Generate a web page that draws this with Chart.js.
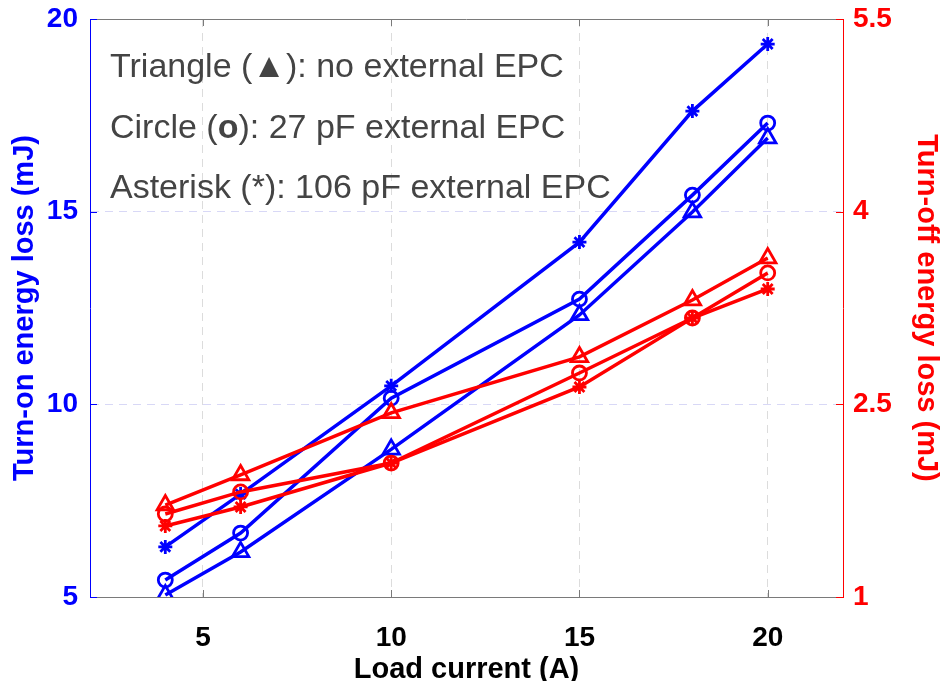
<!DOCTYPE html>
<html>
<head>
<meta charset="utf-8">
<script src="https://cdn.jsdelivr.net/npm/chart.js@4.4.1/dist/chart.umd.min.js"></script>
<style>
  body { margin: 0; background: #fff; }
  #wrap { width: 940px; height: 681px; }
</style>
</head>
<body>
<div id="wrap"><canvas id="lossChart" width="940" height="681"></canvas></div>
<script>
// Load current (A)
const loadCurrent = [4, 6, 10, 15, 18, 20];

// Turn-on energy loss (mJ), left axis
const onTriangle = [5.05, 6.17, 8.83, 12.32, 14.99, 16.91];
const onCircle = [5.44, 6.66, 10.16, 12.73, 15.43, 17.30];
const onAsterisk = [6.30, 7.67, 10.48, 14.21, 17.61, 19.35];

// Turn-off energy loss (mJ), right axis
const offTriangle = [1.716, 1.95, 2.433, 2.869, 3.312, 3.639];
const offCircle = [1.646, 1.818, 2.043, 2.744, 3.172, 3.523];
const offAsterisk = [1.553, 1.701, 2.043, 2.635, 3.172, 3.398];

// Tick labels
const xTicks = [5, 10, 15, 20];
const leftTicks = [5, 10, 15, 20];
const rightTicks = [1, 2.5, 4, 5.5];

const BLUE = "#0000ff";
const RED = "#ff0000";
const FONT = "'Liberation Sans', Arial, 'DejaVu Sans', sans-serif";

function pts(ys) {
  return loadCurrent.map((x, i) => ({ x: x, y: ys[i] }));
}

function series(ys, color, axis, style, radius) {
  return {
    data: pts(ys),
    yAxisID: axis,
    borderColor: color,
    backgroundColor: "rgba(0,0,0,0)",
    borderWidth: 3.5,
    pointStyle: style,
    pointRadius: radius,
    pointBorderWidth: 2.8,
    pointBorderColor: color,
    pointBackgroundColor: "rgba(0,0,0,0)",
    tension: 0,
    fill: false,
  };
}

function setTicks(values) {
  return (scale) => {
    scale.ticks = values.map((v) => ({ value: v }));
  };
}

// fixed axis width, no extra room for the end labels
function fitWidth(w) {
  return (s) => {
    s.width = w;
    s.paddingTop = 0;
    s.paddingBottom = 0;
  };
}

// Inner tick marks, top box line and the text notes
const extras = {
  id: "extras",
  afterDatasetsDraw(chart) {
    const { ctx, chartArea: a, scales } = chart;
    ctx.save();
    ctx.lineWidth = 1;

    // top frame line
    ctx.strokeStyle = "#7a7a7a";
    ctx.beginPath();
    ctx.moveTo(a.left, a.top + 0.5);
    ctx.lineTo(a.right, a.top + 0.5);
    ctx.stroke();

    // x ticks (bottom + top, pointing in)
    xTicks.forEach((v) => {
      const px = Math.round(scales.x.getPixelForValue(v)) + 0.5;
      ctx.beginPath();
      ctx.moveTo(px, a.bottom);
      ctx.lineTo(px, a.bottom - 7);
      ctx.moveTo(px, a.top);
      ctx.lineTo(px, a.top + 7);
      ctx.stroke();
    });

    // left ticks
    ctx.strokeStyle = BLUE;
    leftTicks.forEach((v) => {
      const py = Math.round(scales.yOn.getPixelForValue(v)) + 0.5;
      ctx.beginPath();
      ctx.moveTo(a.left, py);
      ctx.lineTo(a.left + 7, py);
      ctx.stroke();
    });

    // right ticks
    ctx.strokeStyle = RED;
    rightTicks.forEach((v) => {
      const py = Math.round(scales.yOff.getPixelForValue(v)) + 0.5;
      ctx.beginPath();
      ctx.moveTo(a.right, py);
      ctx.lineTo(a.right - 7, py);
      ctx.stroke();
    });

    // notes
    ctx.fillStyle = "#444444";
    ctx.textBaseline = "middle";
    ctx.textAlign = "left";
    const notes = [
      [["Triangle (", ""], ["\u25B2", ""], ["): no external EPC", ""]],
      [["Circle (", ""], ["o", "bold "], ["): 27 pF external EPC", ""]],
      [["Asterisk (*): 106 pF external EPC", ""]],
    ];
    const rows = [68, 129, 189];
    notes.forEach((parts, i) => {
      let x = 110;
      parts.forEach(([txt, weight]) => {
        ctx.font = weight + "34px " + FONT;
        ctx.fillText(txt, x, rows[i]);
        x += ctx.measureText(txt).width;
      });
    });
    ctx.restore();
  },
};

const ctx = document.getElementById("lossChart").getContext("2d");
new Chart(ctx, {
  type: "line",
  data: {
    datasets: [
      series(offTriangle, RED, "yOff", "triangle", 9.5),
      series(offCircle, RED, "yOff", "circle", 7),
      series(offAsterisk, RED, "yOff", "star", 7),
      series(onTriangle, BLUE, "yOn", "triangle", 9.5),
      series(onCircle, BLUE, "yOn", "circle", 7),
      series(onAsterisk, BLUE, "yOn", "star", 7),
    ],
  },
  options: {
    responsive: false,
    animation: false,
    layout: { padding: { top: 19, left: 0, right: 0, bottom: 0 } },
    plugins: {
      legend: { display: false },
      tooltip: { enabled: false },
    },
    scales: {
      x: {
        type: "linear",
        min: 2,
        max: 22,
        afterBuildTicks: setTicks(xTicks),
        afterFit: (s) => { s.height = 84; },
        grid: { color: "#dcdcdc", drawTicks: false },
        border: { color: "#7a7a7a", dash: [8, 6] },
        ticks: {
          color: "#000",
          padding: 24,
          font: { family: FONT, size: 28, weight: "bold" },
        },
        title: {
          display: true,
          text: "Load current (A)",
          color: "#000",
          padding: { top: 0, bottom: -3 },
          font: { family: FONT, size: 29, weight: "bold", lineHeight: 1 },
        },
      },
      yOn: {
        type: "linear",
        position: "left",
        min: 5,
        max: 20,
        afterBuildTicks: setTicks(leftTicks),
        afterFit: fitWidth(90),
        grid: { color: "#d8d8f6", drawTicks: false },
        border: { color: BLUE, dash: [8, 6] },
        ticks: {
          color: BLUE,
          padding: 12,
          font: { family: FONT, size: 28, weight: "bold" },
        },
        title: {
          display: true,
          text: "Turn-on energy loss (mJ)",
          color: BLUE,
          padding: { top: 10, bottom: 0 },
          font: { family: FONT, size: 29, weight: "bold", lineHeight: 1 },
        },
      },
      yOff: {
        type: "linear",
        position: "right",
        min: 1,
        max: 5.5,
        afterBuildTicks: setTicks(rightTicks),
        afterFit: fitWidth(97),
        grid: { display: false, drawTicks: false },
        border: { color: RED },
        ticks: {
          color: RED,
          padding: 10,
          font: { family: FONT, size: 28, weight: "bold" },
        },
        title: {
          display: true,
          text: "Turn-off energy loss (mJ)",
          color: RED,
          padding: { top: 0, bottom: 0 },
          font: { family: FONT, size: 29, weight: "bold", lineHeight: 1 },
        },
      },
    },
  },
  plugins: [extras],
});
</script>
</body>
</html>
